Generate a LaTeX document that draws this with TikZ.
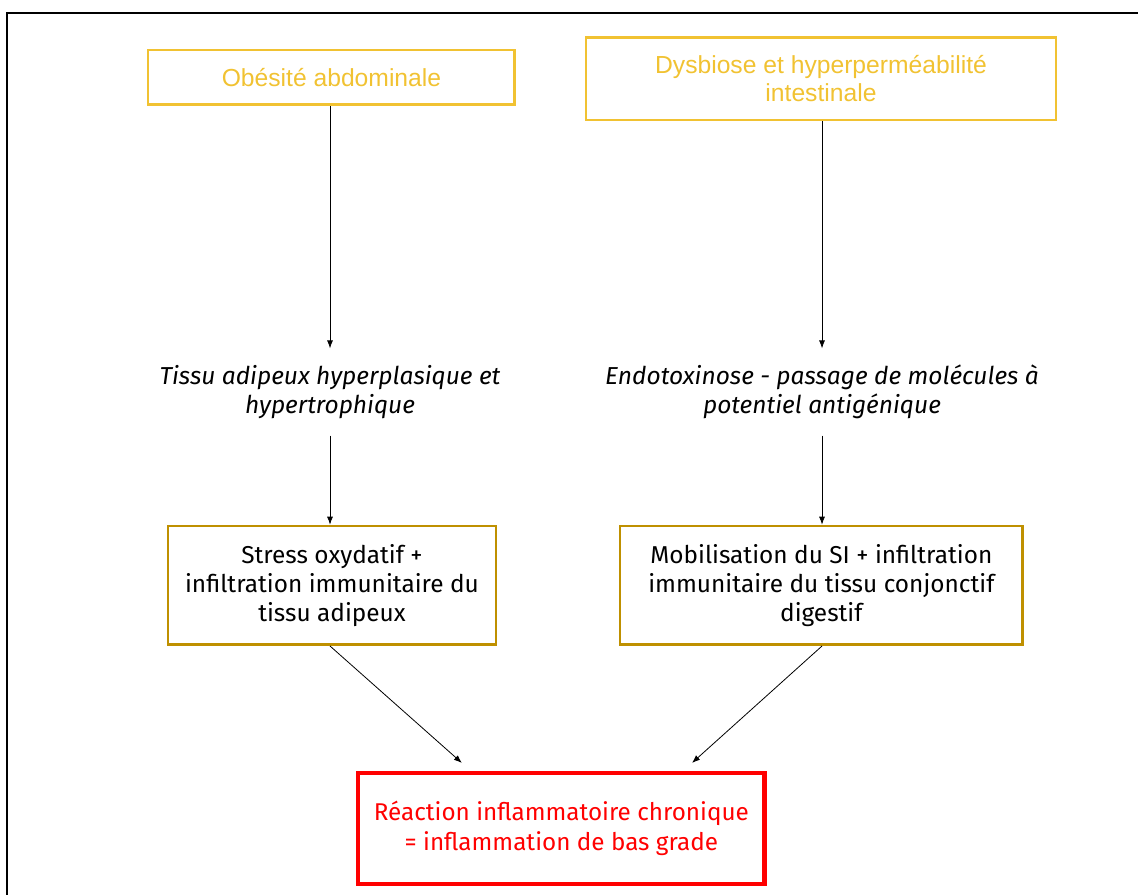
\documentclass[tikz,border=0pt]{standalone}
\usepackage{fontspec}
\setmainfont{Liberation Sans}
\newfontfamily\bodyfont{Fira Sans}
\usepackage{tikz}
\usetikzlibrary{arrows, arrows.meta, calc}
\definecolor{lightgold}{HTML}{F1C232}
\definecolor{darkgold}{HTML}{BF9000}
\definecolor{alertred}{HTML}{FF0000}
\tikzstyle{cause} = [rectangle, draw=lightgold, line width=2pt, text=lightgold,
    font=\fontsize{18.5}{21.5}\selectfont, align=center]
\tikzstyle{effect} = [rectangle, inner sep=0pt, text=black,
    font=\bodyfont\itshape\fontsize{18.4}{21.75}\selectfont, align=center]
\tikzstyle{process} = [rectangle, draw=darkgold, line width=2pt, fill=white,
    font=\bodyfont\fontsize{18.3}{21.75}\selectfont, align=center, minimum height=89pt]
\tikzstyle{outcome} = [rectangle, draw=alertred, line width=3.4pt, text=alertred,
    font=\bodyfont\fontsize{18.2}{22.5}\selectfont, align=center,
    minimum width=305pt, minimum height=83pt]
\tikzstyle{line} = [draw, -{Latex[length=6pt, width=4.5pt]}, line width=0.6pt]

\begin{document}
\begin{tikzpicture}[x=1pt, y=1pt]
    \useasboundingbox (0,0) rectangle (853.5,-671.25);
    % Frame
    \draw [line width=1.5pt] (5.6,-700) -- (5.6,-9.4) -- (900,-9.4);
    % Nodes
    \node [cause, minimum width=275pt, minimum height=41pt] (obesity) at (248.6,-58.1) {Obésité abdominale};
    \node [cause, minimum width=352.5pt, minimum height=62pt] (dysbiosis) at (615.75,-58.9) {Dysbiose et hyperperméabilité\\intestinale};
    \node [effect, minimum height=65pt] (adipose) at (247.5,-294) {Tissu adipeux hyperplasique et\\hypertrophique};
    \node [effect, minimum height=65pt] (endotox) at (616.5,-294) {Endotoxinose - passage de molécules à\\potentiel antigénique};
    \node [process, minimum width=246pt] (stress) at (249,-439) {Stress oxydatif +\\infiltration immunitaire du\\tissu adipeux};
    \node [process, minimum width=302pt] (immune) at (616,-439) {Mobilisation du SI + infiltration\\immunitaire du tissu conjonctif\\digestif};
    \node [outcome] (inflam) at (421,-621.4) {Réaction inflammatoire chronique\\= inflammation de bas grade};
    % Edges
    \path [line] (obesity.south -| adipose.north) -- (adipose.north);
    \path [line] (dysbiosis.south -| endotox.north) -- (endotox.north);
    \path [line] (adipose.south) -- (adipose.south |- stress.north);
    \path [line] (endotox.south) -- (endotox.south |- immune.north);
    \path [line] (adipose.south |- stress.south) -- ([xshift=-74.6pt, yshift=6pt]inflam.north);
    \path [line] (endotox.south |- immune.south) -- ([xshift=98pt, yshift=6pt]inflam.north);
\end{tikzpicture}
\end{document}
